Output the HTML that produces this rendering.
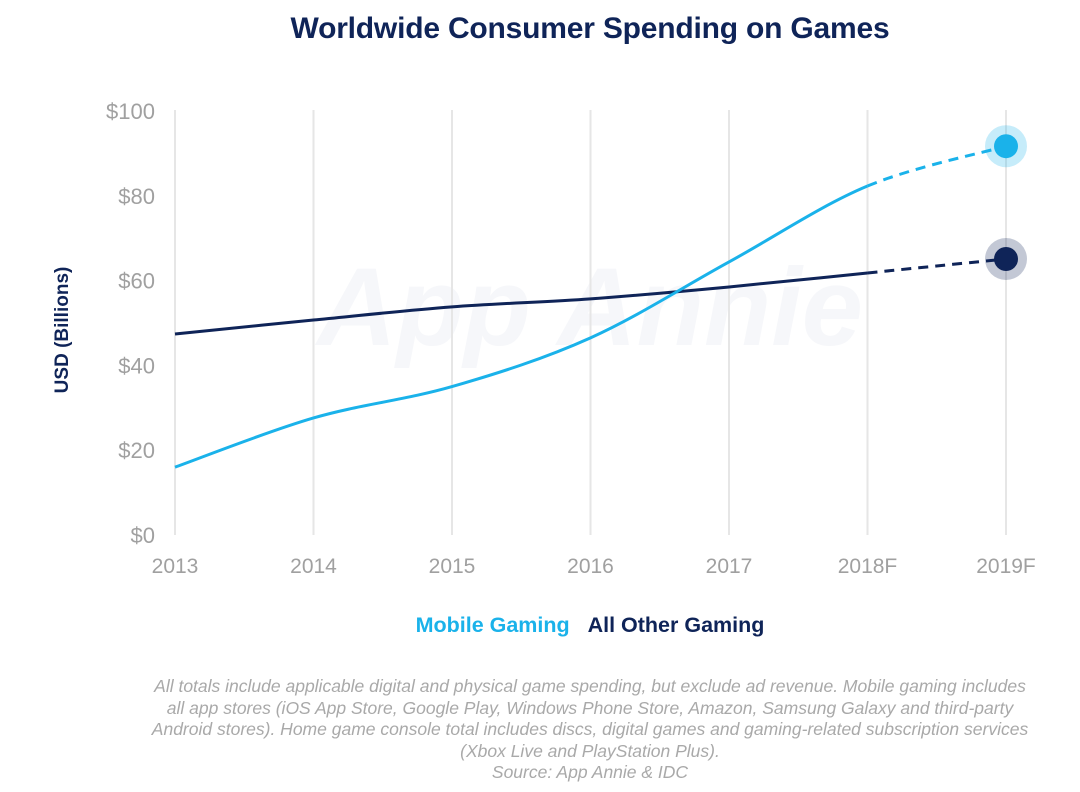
<!DOCTYPE html>
<html><head><meta charset="utf-8">
<style>
body{margin:0;background:#fff;width:1080px;height:792px;overflow:hidden;font-family:"Liberation Sans",sans-serif}
.title{position:absolute;top:12px;left:50px;width:1080px;text-align:center;font-weight:bold;font-size:30px;color:#0f2458;letter-spacing:-0.2px}
.legend{position:absolute;top:613px;left:50px;width:1080px;text-align:center;font-weight:bold;font-size:21.5px}
.note{position:absolute;top:676px;left:50px;width:1080px;text-align:center;font-style:italic;font-size:17.5px;line-height:21.5px;color:#a9a9a9;white-space:nowrap}
</style></head><body>
<div class="title">Worldwide Consumer Spending on Games</div>
<svg id="chart" width="1080" height="792" style="position:absolute;top:0;left:0"></svg>
<div class="legend"><span style="color:#1ab2ea">Mobile Gaming</span>&nbsp;&nbsp;&nbsp;<span style="color:#0f2458">All Other Gaming</span></div>
<div class="note">All totals include applicable digital and physical game spending, but exclude ad revenue. Mobile gaming includes<br>all app stores (iOS App Store, Google Play, Windows Phone Store, Amazon, Samsung Galaxy and third-party<br>Android stores). Home game console total includes discs, digital games and gaming-related subscription services<br>(Xbox Live and PlayStation Plus).<br>Source: App Annie &amp; IDC</div>
<script>
const categories=["2013","2014","2015","2016","2017","2018F","2019F"];
const mobile=[16,27.6,35,46.5,64.4,82.3,91.7];
const other=[47.4,50.7,53.8,55.7,58.5,61.8,65.1];
const yTicks=[0,20,40,60,80,100];
const NS="http://www.w3.org/2000/svg";
const svg=document.getElementById('chart');
const x=i=>175+i*138.5;
const y=v=>535-v*4.24;
function el(t,a,p){const e=document.createElementNS(NS,t);for(const k in a)e.setAttribute(k,a[k]);(p||svg).appendChild(e);return e;}
const wm=el('text',{x:590,y:345,'text-anchor':'middle','font-size':110,'font-style':'italic','font-weight':'bold',fill:'#f6f7fa','font-family':'Liberation Sans,sans-serif'});
wm.textContent='App Annie';


categories.forEach((c,i)=>{
 const g=el('line',{x1:x(i),x2:x(i),y1:110,y2:535,stroke:'#e6e6e6','stroke-width':2});
 
 
 const t=el('text',{x:x(i),y:573,'text-anchor':'middle','font-size':21,fill:'#a0a0a0'});
 t.textContent=c;
 
 
});
yTicks.forEach(v=>{
 const t=el('text',{x:155,y:y(v)+8,'text-anchor':'end','font-size':22,fill:'#a0a0a0'});
 t.textContent='$'+v;
 
 
});
const yt=el('text',{x:0,y:0,transform:'translate(68,330) rotate(-90)','text-anchor':'middle','font-size':19,'font-weight':'bold',fill:'#0f2458'});
yt.textContent='USD (Billions)';


function path(vals,from,to){
 const p=vals.map((v,i)=>[x(i),y(v)]);
 let d='M'+p[from][0]+','+p[from][1];
 for(let i=from;i<to;i++){
  const p0=p[Math.max(i-1,0)],p1=p[i],p2=p[i+1],p3=p[Math.min(i+2,p.length-1)];
  d+=` C${p1[0]+(p2[0]-p0[0])/6},${p1[1]+(p2[1]-p0[1])/6} ${p2[0]-(p3[0]-p1[0])/6},${p2[1]-(p3[1]-p1[1])/6} ${p2[0]},${p2[1]}`;
 }
 return d;
}
[[other,'#0f2458','other'],[mobile,'#1ab2ea','mobile']].forEach(([vals,col,n])=>{
 const l=el('path',{d:path(vals,0,5),fill:'none',stroke:col,'stroke-width':3});
 
 
 const f=el('path',{d:path(vals,5,6),fill:'none',stroke:col,'stroke-width':3,'stroke-dasharray':'10 7'});
 
 
 const h=el('circle',{cx:x(6),cy:y(vals[6]),r:21,fill:col,opacity:0.25});
 
 
 const c=el('circle',{cx:x(6),cy:y(vals[6]),r:12,fill:col});
 
 
});
</script>
</body></html>
